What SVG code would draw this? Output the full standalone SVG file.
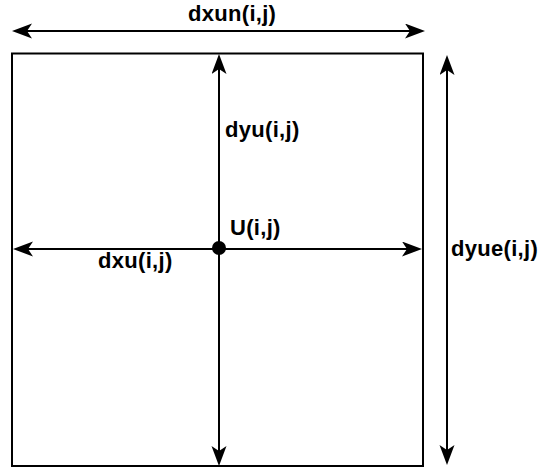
<svg xmlns="http://www.w3.org/2000/svg" width="540" height="472" viewBox="0 0 540 472">
<style>
.ln{stroke:#000;stroke-width:2;fill:none;marker-start:url(#ah);marker-end:url(#ah)}
.lb{font-family:"Liberation Sans",Arial,sans-serif;font-weight:bold;font-size:22px;letter-spacing:0.3px;fill:#000}
</style>
<defs>
<marker id="ah" markerUnits="userSpaceOnUse" markerWidth="22" markerHeight="16" viewBox="0 0 22 16" refX="10" refY="7.5" orient="auto-start-reverse">
<path d="M0,0 L20,7.5 L0,15 L5,7.5 Z" fill="#000"/>
</marker>
</defs>
<rect id="cell" x="12" y="53.5" width="411" height="412.5" fill="#fff" stroke="#000" stroke-width="2"/>
<g id="connectors">
<line class="ln" x1="22" y1="31" x2="415" y2="31"/>
<line class="ln" x1="219" y1="64" x2="219" y2="456"/>
<line class="ln" x1="23" y1="249" x2="412" y2="249"/>
<line class="ln" x1="447" y1="65" x2="447" y2="455"/>
</g>
<g id="point"><circle cx="219" cy="248" r="7" fill="#000"/></g>
<g id="labels">
<text class="lb" x="188" y="21">dxun(i,j)</text>
<text class="lb" x="225" y="137">dyu(i,j)</text>
<text class="lb" x="230" y="235">U(i,j)</text>
<text class="lb" x="98" y="268">dxu(i,j)</text>
<text class="lb" x="451" y="256">dyue(i,j)</text>
</g>
</svg>
